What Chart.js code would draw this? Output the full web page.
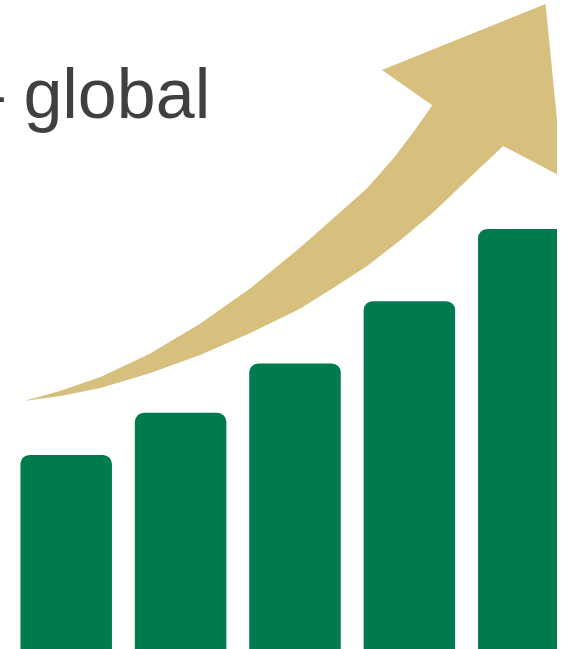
<!DOCTYPE html>
<html>
<head>
<meta charset="utf-8">
<script src="https://cdn.jsdelivr.net/npm/chart.js@4.4.1/dist/chart.umd.min.js"></script>
<style>
  html, body { margin: 0; padding: 0; background: #fff; }
  #wrap { width: 557px; height: 649px; overflow: hidden; position: relative; }
</style>
</head>
<body>
<div id="wrap"><canvas id="growth" width="581" height="649"></canvas></div>
<script>
// bar categories and heights (share of the axis, 0-100)
const periods = ['1', '2', '3', '4', '5'];
const barValues = [29.9, 36.4, 44.0, 53.6, 64.7];

// rising arrow outline, walked clockwise from the tail tip:
// upper edge of the shaft, arrow head, then lower edge back to the tail
// x in category units (first bar = 0), y on the same scale as the bars
const arrowX = [
  -0.37, -0.05, 0.30, 0.73, 1.17, 1.61, 2.04, 2.35, 2.63, 2.87, 3.05, 3.20,
  2.76, 4.19, 4.34, 3.82,
  3.56, 3.21, 2.92, 2.63, 2.33, 2.04, 1.61, 1.17, 0.73, 0.30, -0.05
];
const arrowY = [
  38.2, 39.8, 41.9, 45.5, 50.1, 55.6, 61.8, 66.6, 71.0, 75.8, 80.0, 83.8,
  89.2, 99.4, 72.7, 77.5,
  73.2, 67.3, 63.0, 59.0, 55.6, 52.4, 48.7, 45.3, 42.5, 40.2, 39.0
];

const headline = '\u2013 global';

const GREEN = '#007B4D';
const TAN = '#D7C07E';

const arrowPoints = arrowX.map((x, i) => ({ x: x, y: arrowY[i] }));

// heading text, partly off the left edge
const headingPlugin = {
  id: 'heading',
  afterDraw(chart) {
    const ctx = chart.ctx;
    ctx.save();
    ctx.font = '70px "Liberation Sans", Arial, sans-serif';
    ctx.fillStyle = '#404040';
    ctx.textBaseline = 'alphabetic';
    ctx.textAlign = 'left';
    ctx.fillText(headline, -35, 118);
    ctx.restore();
  }
};

new Chart(document.getElementById('growth'), {
  data: {
    labels: periods,
    datasets: [
      {
        type: 'bar',
        data: barValues,
        backgroundColor: GREEN,
        borderRadius: 9,
        borderSkipped: 'bottom',
        grouped: false,
        categoryPercentage: 1,
        barPercentage: 0.8,
        order: 2
      },
      {
        type: 'line',
        data: arrowPoints,
        xAxisID: 'x2',
        parsing: { xAxisKey: 'x', yAxisKey: 'y' },
        borderWidth: 0,
        borderColor: TAN,
        backgroundColor: TAN,
        fill: 'shape',
        tension: 0,
        pointRadius: 0,
        order: 1
      }
    ]
  },
  options: {
    responsive: false,
    animation: false,
    events: [],
    layout: { padding: { left: 9, right: 0, top: 0, bottom: 0 } },
    plugins: {
      legend: { display: false },
      tooltip: { enabled: false },
      title: { display: false }
    },
    scales: {
      x: { type: 'category', offset: true, display: false },
      x2: { type: 'linear', min: -0.5, max: 4.5, display: false },
      y: { min: 0, max: 100, display: false }
    }
  },
  plugins: [headingPlugin]
});
</script>
</body>
</html>
